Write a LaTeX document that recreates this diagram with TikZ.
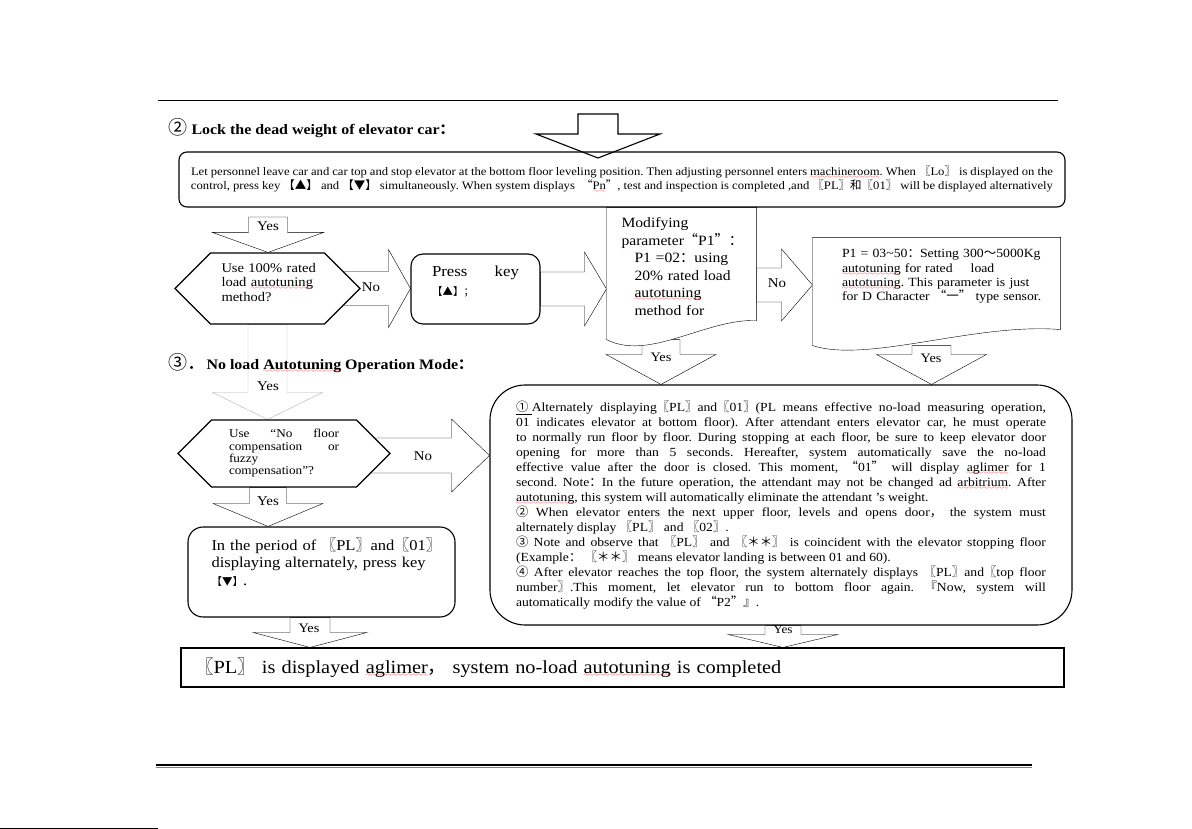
\documentclass[tikz,border=0pt]{standalone}
\usepackage{fontspec}
\setmainfont{Liberation Serif}[FakeStretch=1.1]
\newfontfamily\cjk{Noto Sans CJK SC}
\usepackage{tikz}
\usetikzlibrary{shapes,positioning,calc}

\pgfdeclarelayer{bg}
\pgfsetlayers{bg,main}

\font\sixly=lasy6
\newcommand{\cj}[1]{{\cjk #1}}
\newcommand{\fs}[2]{\fontsize{#1}{#2}\selectfont}
% red spell-check wave
\newcommand{\sq}[1]{\leavevmode\setbox0=\hbox{#1}\rlap{\textcolor{red}{\lower3pt\hbox to\wd0{\xleaders\hbox{\sixly\char58}\hfil}}}\box0\relax}
% lift text inside a box
\newcommand{\lift}[1]{\par\vspace*{#1}\hrule height 0pt}

% block arrow downwards: [style]{from}{to}{half shaft}{half head}{head length}
\newcommand{\blkdown}[6][]{%
  \draw[blk,#1] let \p1=#2, \p2=#3 in
    (\x1-#4pt,\y1) -- (\x1-#4pt,\y2+#6pt) -- (\x1-#5pt,\y2+#6pt) -- (\x1,\y2)
    -- (\x1+#5pt,\y2+#6pt) -- (\x1+#4pt,\y2+#6pt) -- (\x1+#4pt,\y1) -- cycle;}
% block arrow to the right
\newcommand{\blkright}[6][]{%
  \draw[blk,#1] let \p1=#2, \p2=#3 in
    (\x1,\y1+#4pt) -- (\x2-#6pt,\y1+#4pt) -- (\x2-#6pt,\y1+#5pt) -- (\x2,\y1)
    -- (\x2-#6pt,\y1-#5pt) -- (\x2-#6pt,\y1-#4pt) -- (\x1,\y1-#4pt) -- cycle;}

\frenchspacing
\begin{document}
\begin{tikzpicture}[x=1pt,y=-1pt,line width=1.1pt,
    rbox/.style={rectangle,draw,fill=white,rounded corners=#1,inner sep=0pt},
    rbox/.default=12pt,
    hexbox/.style={signal,signal to=east and west,signal pointer angle=90,draw,fill=white,inner sep=0pt,align=left},
    docbox/.style={rectangle,inner sep=0pt,align=left},
    docline/.style={draw,fill=white},
    blk/.style={draw,fill=white},
    ttl/.style={anchor=west,inner sep=0pt,font=\fs{14.5}{17}\bfseries},
    lbl/.style={inner sep=0pt,font=\fs{13.5}{13.5}}
  ]
  \useasboundingbox (0,0) rectangle (1192,829);

  % page rules
  \draw[line width=0.8pt] (158,100) -- (1058,100);
  \draw[line width=2pt] (156,764.5) -- (1032,764.5);
  \draw[line width=1pt,gray] (156,767) -- (1032,767);
  \draw[line width=1pt] (0,828) -- (158,828);

  % part 2: lock the dead weight
  \node[ttl] (locktitle) at (168,128) {\cj{\mdseries\fs{19}{19}②} Lock the dead weight of elevator car\cj{：}};

  \node[rbox=8pt,minimum width=886pt,minimum height=55pt,text width=862pt,align=justify,font=\fs{11.5}{14}] (lockbox) at (622,179.5) {Let personnel leave car and car top and stop elevator at the bottom floor leveling position. Then adjusting personnel enters \sq{machineroom}. When \cj{〖}Lo\cj{〗} is displayed on the\linebreak control, press key \cj{【▲】} and \cj{【▼】} simultaneously. When system displays \ \cj{“}\sq{Pn}\cj{”}, test and inspection is completed ,and \cj{〖}PL\cj{〗和〖}01\cj{〗} will be displayed alternatively};

  \coordinate (locktop) at (598,114);
  \coordinate (locktip) at (598,158);
  \coordinate (yestop) at (268,217);
  \blkdown[fill=none]{(locktop)}{(locktip)}{20}{62}{24}

  \node[hexbox,minimum width=185pt,minimum height=71pt,text width=100pt,font=\fs{13.2}{14.5}] (fullload) at (267.5,288.5) {\hspace*{4pt}Use 100\% rated\\\hspace*{4pt}load \sq{autotuning}\\\hspace*{4pt}method?\lift{12pt}};

  \node[rbox=12pt,minimum width=129pt,minimum height=70pt,text width=87pt,align=left,font=\fs{15.3}{19}] (presskey) at (475.5,289) {\makebox[87pt]{Press\hfill key}\\{\cj{\fs{10.5}{12}【▲】；}}\lift{14pt}};

  \node[docbox,minimum width=149pt,minimum height=131pt,text width=120pt,font=\fs{14.2}{17.6}] (partload) at (681.5,273.5) {Modifying\\parameter\cj{“}P1\cj{”：}\\\hspace*{13pt}P1 =02\cj{：}using\\\hspace*{13pt}20\% rated load\\\hspace*{13pt}\sq{autotuning}\\\hspace*{13pt}method for\lift{14pt}};

  \node[docbox,minimum width=247pt,minimum height=107pt,text width=201pt,font=\fs{12.5}{14.3}] (setload) at (936.5,291.5) {\hspace*{6pt}\mbox{P1 = 03\textasciitilde 50\cj{：}Setting 300\cj{～}5000Kg}\\\hspace*{6pt}\mbox{\sq{autotuning} for rated\hspace{18pt}load}\\\hspace*{6pt}\mbox{\sq{autotuning}. This parameter is just}\\\hspace*{6pt}\mbox{for D Character \cj{“一”} type sensor.}\lift{30pt}};

  % part 3: no load autotuning
  \node[ttl] (notitle) at (168,363) {\cj{\mdseries\fs{19}{19}③．}No load \sq{Autotuning} Operation Mode\cj{：}};

  \node[hexbox,minimum width=212pt,minimum height=67pt,text width=110pt,font=\fs{12}{12.3}] (compensate) at (284,453.5) {\makebox[110pt]{Use\hfill “No\hfill floor}\\\makebox[110pt]{compensation\hfill or}\\fuzzy\\compensation”?};

  \node[rbox=35pt,minimum width=582pt,minimum height=240pt,text width=530pt,align=justify,font=\fs{12.4}{15}] (noload) at (781,505) {\underline{\cj{①}\ }Alternately displaying\cj{〖}PL\cj{〗}and\cj{〖}01\cj{〗}(PL means effective no-load measuring operation,\linebreak
01 indicates elevator at bottom floor). After attendant enters elevator car, he must operate\linebreak
to normally run floor by floor. During stopping at each floor, be sure to keep elevator door\linebreak
opening for more than 5 seconds. Hereafter, system automatically save the no-load\linebreak
effective value after the door is closed. This moment, \cj{“}01\cj{”} will display \sq{aglimer} for 1\linebreak
second. Note\cj{：}In the future operation, the attendant may not be changed ad \sq{arbitrium}. After\linebreak
\sq{autotuning}, this system will automatically eliminate the attendant ’s weight.\par
\cj{②} When elevator enters the next upper floor, levels and opens door\cj{，} the system must\linebreak
alternately display \cj{〖}PL\cj{〗} and \cj{〖}02\cj{〗}.\par
\cj{③} Note and observe that \cj{〖}PL\cj{〗} and \cj{〖＊＊〗} is coincident with the elevator stopping floor\linebreak
(Example\cj{：} \cj{〖＊＊〗} means elevator landing is between 01 and 60).\par
\cj{④} After elevator reaches the top floor, the system alternately displays \cj{〖}PL\cj{〗}and\cj{〖}top floor\linebreak
number\cj{〗}.This moment, let elevator run to bottom floor again. \cj{『}Now, system will\linebreak
automatically modify the value of \cj{“}P2\cj{”』}.};

  \node[rbox=15pt,minimum width=267pt,minimum height=90pt,text width=232pt,align=left,font=\fs{15}{17.5}] (downkey) at (321.5,572) {\hspace*{6pt}\mbox{In the period of \cj{〖}PL\cj{〗}and\cj{〖}01\cj{〗}}\\\hspace*{6pt}\mbox{displaying alternately, press key}\\\hspace*{6pt}{\cj{\fs{10.5}{12}【▼】}}.\lift{20pt}};

  \node[rectangle,draw,fill=white,inner sep=0pt,minimum width=883pt,minimum height=39pt,text width=855pt,align=left,font=\fs{18.5}{20}] (done) at (622.5,667.5) {\cj{〖}PL\cj{〗} is displayed \sq{aglimer}\cj{，} system no-load \sq{autotuning} is completed};

  % connectors
  \begin{pgfonlayer}{bg}
    \blkdown{(yestop)}{(fullload.north)}{19.5}{55.5}{20}
    \blkright{($(fullload.east)+(-25,0)$)}{(presskey.west)}{17}{39}{22}
    \blkright{(presskey.east)}{(partload.west)}{17}{37}{22}
    \blkright{($(partload.east)+(0,11.5)$)}{(setload.west)}{17}{36}{31}
    \blkdown{($(partload.south)+(-20.5,0)$)}{(noload.north)}{19}{55}{30}
    \blkdown{($(setload.south)+(-5,0)$)}{(noload.north)}{19.5}{55}{30}
    \blkdown[draw=gray!60]{(fullload.south)}{(compensate.north)}{19.5}{55}{27}
    \blkright{($(compensate.east)+(-25,2)$)}{(noload.west)}{17.5}{36.5}{38}
    \blkdown{($(compensate.south)+(-16,0)$)}{(downkey.north)}{18.5}{55}{23}
    \blkdown{($(downkey.south)+(-11.5,0)$)}{(done.north)}{20}{57}{15}
    \blkdown{($(noload.south)+(2,0)$)}{(done.north)}{18}{55}{13}
    % document shaped outlines
    \path[docline] (partload.north west) -- (partload.north east) -- ($(partload.south east)+(0,-19)$)
      .. controls ($(partload.south east)+(-51,-21)$) and ($(partload.south west)+(43,22)$) .. (partload.south west) -- cycle;
    \path[docline] (setload.north west) -- (setload.north east) -- ($(setload.south east)+(0,-16)$)
      .. controls ($(setload.south east)+(-85,-23)$) and ($(setload.south west)+(55,18)$) .. (setload.south west) -- cycle;
  \end{pgfonlayer}

  % arrow labels
  \node[lbl] (yes1) at (268,226) {Yes};
  \node[lbl] (no1) at (371,287) {No};
  \node[lbl] (no2) at (777,283) {No};
  \node[lbl,font=\fs{13}{13}] (yes2) at (661,357) {Yes};
  \node[lbl,font=\fs{13}{13}] (yes3) at (931,358) {Yes};
  \node[lbl] (yes4) at (268,386) {Yes};
  \node[lbl] (no3) at (423,456) {No};
  \node[lbl] (yes5) at (268,501) {Yes};
  \node[lbl,font=\fs{13}{13}] (yes6) at (309,628) {Yes};
  \node[lbl,font=\fs{12}{12}] (yes7) at (783,630) {Yes};

\end{tikzpicture}
\end{document}
